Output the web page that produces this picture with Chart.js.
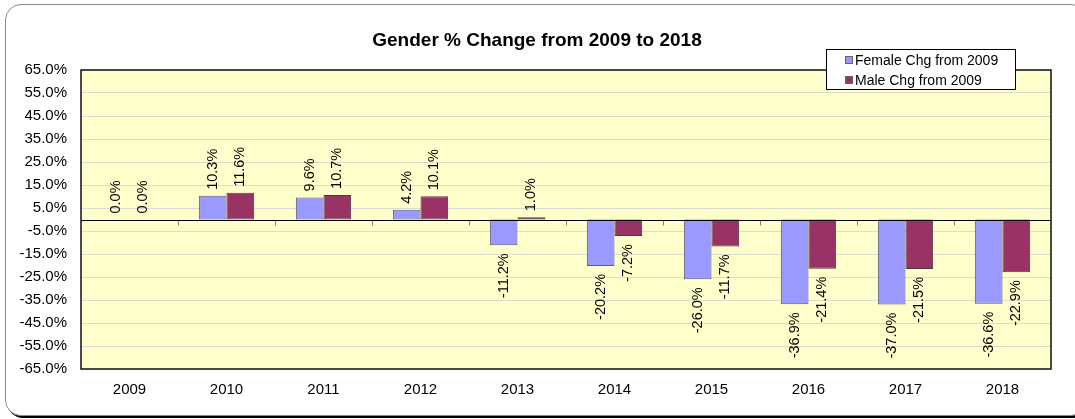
<!DOCTYPE html>
<html>
<head>
<meta charset="utf-8">
<script src="https://cdn.jsdelivr.net/npm/chart.js@4.4.1/dist/chart.umd.min.js"></script>
<style>
  html, body { margin: 0; padding: 0; background: #fff; overflow: hidden; }
  #frame {
    position: absolute; left: 5px; top: 4px; width: 1080px; height: 410px;
    border: 1px solid #8a8a8a; border-radius: 16px;
    box-shadow: 2px 2px 0 #000; background: #fff;
  }
  #wrap { position: absolute; left: 0; top: 0; width: 1075px; height: 419px; }
</style>
</head>
<body>
<div id="frame"></div>
<div id="wrap"><canvas id="c" width="1075" height="419"></canvas></div>
<script>
const titleText = 'Gender % Change from 2009 to 2018';
const categories = ['2009','2010','2011','2012','2013','2014','2015','2016','2017','2018'];
const femaleLabel = 'Female Chg from 2009';
const maleLabel = 'Male Chg from 2009';
const femaleValues = [0.0, 10.3, 9.6, 4.2, -11.2, -20.2, -26.0, -36.9, -37.0, -36.6];
const maleValues = [0.0, 11.6, 10.7, 10.1, 1.0, -7.2, -11.7, -21.4, -21.5, -22.9];
const yTicks = [-65, -55, -45, -35, -25, -15, -5, 5, 15, 25, 35, 45, 55, 65];

const FONT = "'Liberation Sans', Arial, sans-serif";

const decorPlugin = {
  id: 'decor',
  beforeDraw(chart) {
    const { ctx, chartArea: a } = chart;
    ctx.save();
    ctx.fillStyle = '#FFFFCC';
    ctx.fillRect(a.left, a.top, a.right - a.left, a.bottom - a.top);
    ctx.restore();
  },
  afterDatasetsDraw(chart) {
    const { ctx, chartArea: a, scales } = chart;
    const y0 = Math.round(scales.y.getPixelForValue(0)) + 0.5;
    ctx.save();
    ctx.strokeStyle = '#808080';
    ctx.lineWidth = 1;
    const n = categories.length;
    const w = (a.right - a.left) / n;
    for (let i = 1; i < n; i++) {
      const x = Math.round(a.left + i * w) + 0.5;
      ctx.beginPath(); ctx.moveTo(x, y0); ctx.lineTo(x, y0 + 5); ctx.stroke();
    }
    ctx.strokeStyle = '#000';
    ctx.beginPath(); ctx.moveTo(a.left, y0); ctx.lineTo(a.right, y0); ctx.stroke();
    ctx.lineWidth = 1.5;
    ctx.strokeStyle = '#111';
    ctx.strokeRect(a.left, a.top, a.right - a.left, a.bottom - a.top);

    ctx.fillStyle = '#000';
    ctx.font = '14.5px ' + FONT;
    ctx.textBaseline = 'middle';
    chart.data.datasets.forEach((ds, di) => {
      const meta = chart.getDatasetMeta(di);
      meta.data.forEach((el, i) => {
        const v = ds.data[i];
        const txt = v.toFixed(1) + '%';
        ctx.save();
        if (v >= 0) {
          ctx.translate(el.x, el.y - 6);
          ctx.rotate(-Math.PI / 2);
          ctx.textAlign = 'left';
        } else {
          ctx.translate(el.x, el.y + 8);
          ctx.rotate(-Math.PI / 2);
          ctx.textAlign = 'right';
        }
        ctx.fillText(txt, 0, 0);
        ctx.restore();
      });
    });
    ctx.restore();
  },
  afterDraw(chart) {
    const { ctx } = chart;
    ctx.save();
    ctx.fillStyle = '#000';
    ctx.font = 'bold 19px ' + FONT;
    ctx.textAlign = 'center';
    ctx.textBaseline = 'middle';
    ctx.fillText(titleText, 537, 41);
    const bx = 826.5, by = 49.5, bw = 189, bh = 40;
    ctx.fillStyle = '#fff';
    ctx.fillRect(bx, by, bw, bh);
    ctx.strokeStyle = '#000';
    ctx.lineWidth = 1;
    ctx.strokeRect(bx, by, bw, bh);
    ctx.font = '14px ' + FONT;
    ctx.textAlign = 'left';
    chart.data.datasets.forEach((ds, di) => {
      const cy = 60 + di * 20;
      ctx.fillStyle = ds.backgroundColor;
      ctx.fillRect(845, cy - 4, 8, 8);
      ctx.strokeStyle = '#666';
      ctx.strokeRect(845.5, cy - 3.5, 7, 7);
      ctx.fillStyle = '#000';
      ctx.fillText(ds.label, 855, cy + 1);
    });
    ctx.restore();
  }
};

new Chart(document.getElementById('c'), {
  type: 'bar',
  data: {
    labels: categories,
    datasets: [
      { label: femaleLabel, data: femaleValues, backgroundColor: '#9999FF', borderColor: '#5a5a7a', borderWidth: 1, borderSkipped: false },
      { label: maleLabel, data: maleValues, backgroundColor: '#993366', borderColor: '#4a3a40', borderWidth: 1, borderSkipped: false }
    ]
  },
  options: {
    responsive: false,
    animation: false,
    events: [],
    layout: { padding: { top: 70, right: 24, bottom: 0, left: 0 } },
    plugins: { legend: { display: false }, title: { display: false }, tooltip: { enabled: false } },
    datasets: { bar: { categoryPercentage: 0.57, barPercentage: 1.0 } },
    scales: {
      x: {
        grid: { display: false, drawTicks: false },
        border: { display: false },
        ticks: { color: '#000', font: { family: FONT, size: 15 }, padding: 12, maxRotation: 0 },
        afterFit(s) { s.height = 50; }
      },
      y: {
        min: -65, max: 65,
        afterBuildTicks(s) { s.ticks = yTicks.map(v => ({ value: v })); },
        grid: { color: '#dcdccc', drawTicks: false, lineWidth: 1 },
        border: { display: false },
        ticks: { color: '#000', font: { family: FONT, size: 15 }, padding: 14,
                 callback: v => Number(v).toFixed(1) + '%' },
        afterFit(s) { s.width = 81; }
      }
    }
  },
  plugins: [decorPlugin]
});
</script>
</body>
</html>
